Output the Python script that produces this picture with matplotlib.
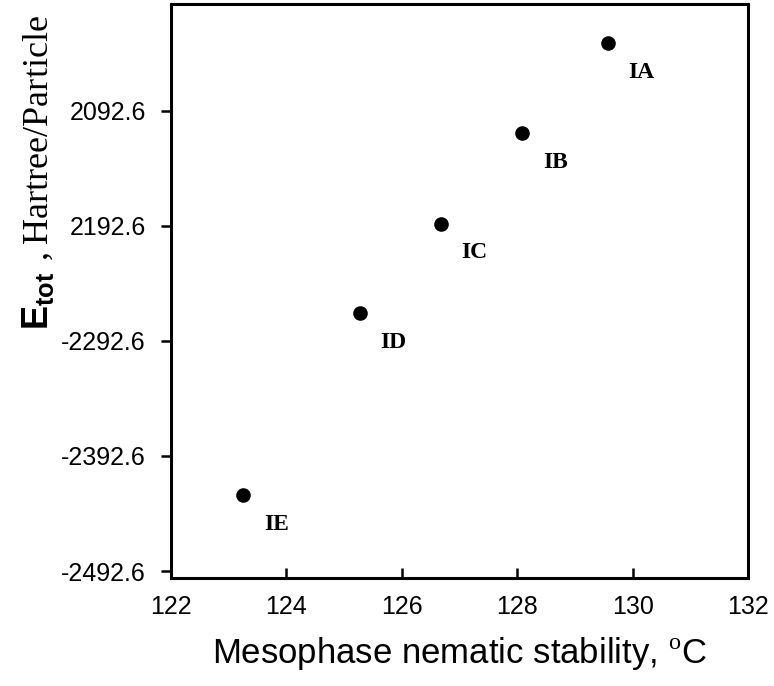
import matplotlib
matplotlib.use("Agg")
import matplotlib.pyplot as plt

# data
stability = [123.25, 125.27, 126.68, 128.08, 129.57]
energy = [-2426.5, -2268.4, -2190.9, -2112.3, -2034.2]
names = ["IE", "ID", "IC", "IB", "IA"]

xticks = [122, 124, 126, 128, 130, 132]
yticks = [-2092.6, -2192.6, -2292.6, -2392.6, -2492.6]
ytick_labels = ["2092.6", "2192.6", "-2292.6", "-2392.6", "-2492.6"]

plt.rcParams["font.family"] = "Liberation Sans"
plt.rcParams["mathtext.fontset"] = "custom"
plt.rcParams["mathtext.rm"] = "Liberation Serif"
plt.rcParams["mathtext.bf"] = "Liberation Sans:bold"

fig = plt.figure(figsize=(7.74, 6.86), dpi=100)
ax = fig.add_axes([0.2209, 0.1574, 0.7455, 0.8368])

ax.scatter(stability, energy, s=90, color="black", zorder=3)
for x, y, n in zip(stability, energy, names):
    ax.annotate(n, (x, y), xytext=(24, -21), textcoords="offset points",
                fontsize=17, fontweight="bold", family="Liberation Serif",
                ha="center", va="center")

ax.set_xlim(122, 132)
ax.set_ylim(-2498.6, -2000)
ax.set_xticks(xticks)
ax.set_xticklabels([str(t) for t in xticks])
ax.set_yticks(yticks)
ax.set_yticklabels(ytick_labels)

for sp in ax.spines.values():
    sp.set_linewidth(2.2)
ax.tick_params(axis="x", direction="in", length=7, width=1.8, labelsize=18, pad=12)
ax.tick_params(axis="y", direction="out", length=7, width=1.8, labelsize=18, pad=11)

ax.set_xlabel("Mesophase nematic stability, $^{\\rm o}$C", fontsize=25, labelpad=12)
ax.set_ylabel(r"$\mathbf{E}_{\mathbf{tot}}\ \mathrm{,Hartree/Particle}$", fontsize=26,
              loc="top")
ax.yaxis.set_label_coords(-0.2, 0.98)

plt.savefig("out.png", dpi=100)
